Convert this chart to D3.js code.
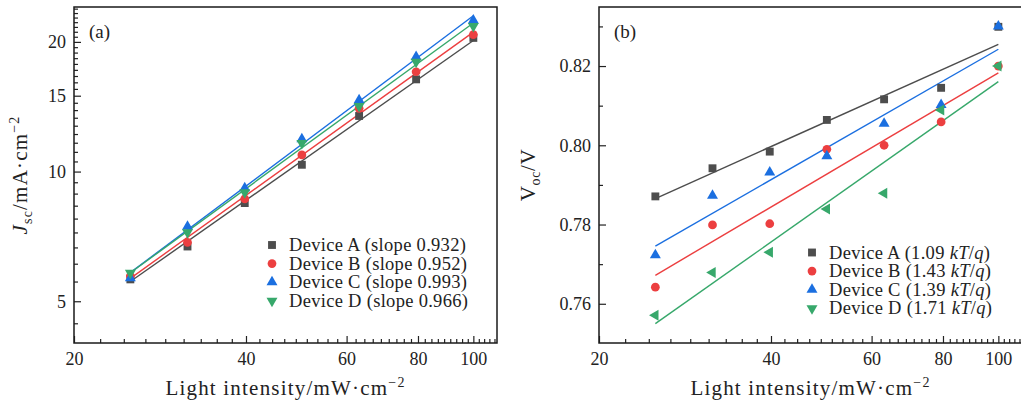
<!DOCTYPE html>
<html>
<head>
<meta charset="utf-8">
<script src="https://cdn.jsdelivr.net/npm/d3@7"></script>
<style>
  body { margin: 0; background: #fff; }
  svg, svg text { font-family: "Liberation Serif", "DejaVu Serif", serif; }
</style>
</head>
<body>
<div id="chart"></div>
<script>
// Light intensity (mW/cm^2), shared by both panels
const intensity = [25.1, 31.6, 39.8, 50.1, 63.1, 79.4, 100];
const deviceNames = ['Device A', 'Device B', 'Device C', 'Device D'];

// (a) Jsc, mA/cm^2
const jscA = [5.62, 6.70, 8.45, 10.37, 13.46, 16.37, 20.43];
const jscB = [5.72, 6.85, 8.64, 10.93, 14.02, 17.05, 20.80];
const jscC = [5.66, 7.45, 9.15, 11.90, 14.65, 18.46, 22.45];
const jscD = [5.82, 7.22, 8.94, 11.64, 14.19, 17.98, 21.75];
const jscSlopes = [0.932, 0.952, 0.993, 0.966];

// (b) Voc, V
const vocA = [0.7871, 0.7942, 0.7984, 0.8064, 0.8116, 0.8145, 0.8299];
const vocB = [0.7642, 0.7799, 0.7802, 0.7990, 0.8000, 0.8059, 0.8200];
const vocC = [0.7723, 0.7873, 0.7932, 0.7973, 0.8055, 0.8102, 0.8300];
const vocD = [0.7571, 0.7679, 0.7730, 0.7839, 0.7879, 0.8089, 0.8200];
const idealityN = [1.09, 1.43, 1.39, 1.71];

// tick labels
const xTicks = [20, 40, 60, 80, 100];
const jscTicks = [5, 10, 15, 20];
const vocTicks = [0.76, 0.78, 0.80, 0.82];

const colors = ['#4d4d4d', '#ec3f40', '#1b6fe0', '#37a86b'];
const kTq = 0.025852;
const serif = '"Liberation Serif", "DejaVu Serif", serif';

const width = 1021, height = 403;
const svg = d3.select('#chart').append('svg')
  .attr('width', width)
  .attr('height', height);

const plotTop = 7, plotBottom = 343;

function symbolPath(i) {
  // square, circle, up triangle, down (legend / panel a) or left triangle (panel b points)
  const types = [d3.symbolSquare, d3.symbolCircle, d3.symbolTriangle, d3.symbolTriangle];
  const sizes = [62, 60, 52, 52];
  return d3.symbol().type(types[i]).size(sizes[i])();
}
function symbolRotate(i, panel) {
  if (i !== 3) return '';
  return panel === 'b' ? ' rotate(-90)' : ' rotate(180)';
}

// minor ticks (Origin style)
function minorLinear(majors, step, lo, hi) {
  const out = [];
  for (let v = Math.floor(lo / step) * step; v <= hi + 1e-9; v += step) {
    if (v < lo || v > hi) continue;
    if (majors.some(m => Math.abs(m - v) < step * 0.05)) continue;
    out.push(v);
  }
  return out;
}
const xMinor = [];
for (let m = 20; m < 120; m += 20) {
  for (let k = 1; k <= 8; k++) {
    const v = m + k * 20 / 9;
    if (v <= 110) xMinor.push(v);
  }
}

function drawPanel(opts) {
  const { left, right, y, yTicks, yMinor, yFmt, label, series, fits, legendX, legendY, legendText, panel, yPad } = opts;
  const x = d3.scaleLog().domain([20, 110]).range([left, right]);
  const g = svg.append('g');

  // x axis (inward ticks)
  const xa = g.append('g').attr('transform', `translate(0,${plotBottom})`);
  xa.call(d3.axisBottom(x).tickValues(xMinor).tickSize(-4).tickFormat(''));
  xa.append('g').call(d3.axisBottom(x).tickValues(xTicks).tickSize(-7).tickPadding(9).tickFormat(d3.format('d')));
  // y axis
  const ya = g.append('g').attr('transform', `translate(${left},0)`);
  ya.call(d3.axisLeft(y).tickValues(yMinor).tickSize(-4).tickFormat(''));
  ya.append('g').call(d3.axisLeft(y).tickValues(yTicks).tickSize(-7).tickPadding(yPad).tickFormat(yFmt));

  g.selectAll('.domain').remove();
  g.selectAll('g').attr('font-family', null);
  g.selectAll('.tick line').attr('stroke', '#222').attr('stroke-width', 1.2);
  g.selectAll('.tick text').attr('fill', '#222').style('font-size', '18px')
    .style('font-family', serif);

  // frame
  g.append('rect')
    .attr('x', left).attr('y', plotTop)
    .attr('width', right - left).attr('height', plotBottom - plotTop)
    .attr('fill', 'none').attr('stroke', '#1a1a1a').attr('stroke-width', 1.5);

  // fits and points
  series.forEach((vals, i) => {
    g.append('path')
      .datum(fits[i])
      .attr('fill', 'none')
      .attr('stroke', colors[i])
      .attr('stroke-width', 1.4)
      .attr('d', d3.line().x(d => x(d[0])).y(d => y(d[1])));
  });
  series.forEach((vals, i) => {
    g.selectAll(null)
      .data(vals.map((v, j) => [intensity[j], v]))
      .enter().append('path')
      .attr('d', symbolPath(i))
      .attr('fill', colors[i])
      .attr('transform', d => `translate(${x(d[0])},${y(d[1])})${symbolRotate(i, panel)}`);
  });

  // legend
  deviceNames.forEach((name, i) => {
    const cy = legendY + i * 18.6;
    g.append('path')
      .attr('d', symbolPath(i))
      .attr('fill', colors[i])
      .attr('transform', `translate(${legendX},${cy})${symbolRotate(i, 'legend')}`);
    const t = g.append('text')
      .attr('x', legendX + 17).attr('y', cy + 6)
      .attr('fill', '#222')
      .style('font-family', serif)
      .style('font-size', '18.5px')
      .style('letter-spacing', '0.3px');
    legendText(t, name, i);
  });

  // panel label
  g.append('text')
    .attr('x', left + 15).attr('y', 38)
    .attr('fill', '#222')
    .style('font-family', serif)
    .style('font-size', '19px')
    .text(label);

  // x title
  const xt = g.append('text')
    .attr('x', (left + right) / 2).attr('y', 395)
    .attr('text-anchor', 'middle')
    .attr('fill', '#222')
    .style('font-family', serif)
    .style('font-size', '21px')
    .style('letter-spacing', '1.2px');
  xt.append('tspan').text('Light intensity/mW\u00b7cm');
  xt.append('tspan').attr('dy', -8).style('font-size', '14px').text('\u22122');

  return g;
}

// ---------- panel (a) ----------
const yA = d3.scaleLog().domain([4.0, 24.1]).range([plotBottom, plotTop]);
const jscSeries = [jscA, jscB, jscC, jscD];
const lx = intensity.map(Math.log10);
const lxMean = d3.mean(lx);
const jscFits = jscSeries.map((vals, i) => {
  const lyMean = d3.mean(vals.map(Math.log10));
  const ends = [intensity[0], intensity[intensity.length - 1]];
  return ends.map(v => [v, Math.pow(10, lyMean + jscSlopes[i] * (Math.log10(v) - lxMean))]);
});
const yMinorA = [];
for (let v = 5 / 9; v < 24.1; v += 5 / 9) {
  if (v >= 4.0 && Math.abs(v / 5 - Math.round(v / 5)) > 0.01) yMinorA.push(v);
}
const gA = drawPanel({
  left: 74, right: 497, y: yA,
  yTicks: jscTicks, yMinor: yMinorA, yFmt: d3.format('d'), yPad: 8,
  label: '(a)', series: jscSeries, fits: jscFits, panel: 'a',
  legendX: 272, legendY: 245,
  legendText: (t, name, i) => t.text(`${name} (slope ${jscSlopes[i].toFixed(3)})`)
});
const ytA = gA.append('text')
  .attr('transform', `translate(27,${(plotTop + plotBottom) / 2}) rotate(-90)`)
  .attr('text-anchor', 'middle')
  .attr('fill', '#222')
  .style('font-family', serif)
  .style('font-size', '21px')
  .style('letter-spacing', '1.2px');
ytA.append('tspan').style('font-style', 'italic').text('J');
ytA.append('tspan').attr('dy', 5).style('font-size', '14px').text('sc');
ytA.append('tspan').attr('dy', -5).text('/mA\u00b7cm');
ytA.append('tspan').attr('dy', -8).style('font-size', '14px').text('\u22122');

// ---------- panel (b) ----------
const yB = d3.scaleLinear().domain([0.7501, 0.8349]).range([plotBottom, plotTop]);
const vocSeries = [vocA, vocB, vocC, vocD];
const lnx = intensity.map(Math.log);
const lnMean = d3.mean(lnx);
const vocFits = vocSeries.map((vals, i) => {
  const vMean = d3.mean(vals);
  const ends = [intensity[0], intensity[intensity.length - 1]];
  return ends.map(v => [v, vMean + idealityN[i] * kTq * (Math.log(v) - lnMean)]);
});
const yMinorB = minorLinear(vocTicks, 0.01, 0.7501, 0.8349);
const gB = drawPanel({
  left: 599, right: 1022, y: yB,
  yTicks: vocTicks, yMinor: yMinorB, yFmt: d3.format('.2f'), yPad: 8,
  label: '(b)', series: vocSeries, fits: vocFits, panel: 'b',
  legendX: 812, legendY: 252.5,
  legendText: (t, name, i) => {
    t.append('tspan').text(`${name} (${idealityN[i].toFixed(2)} `);
    t.append('tspan').style('font-style', 'italic').text('kT');
    t.append('tspan').text('/');
    t.append('tspan').style('font-style', 'italic').text('q');
    t.append('tspan').text(')');
  }
});
const ytB = gB.append('text')
  .attr('transform', `translate(535,${(plotTop + plotBottom) / 2}) rotate(-90)`)
  .attr('text-anchor', 'middle')
  .attr('fill', '#222')
  .style('font-family', serif)
  .style('font-size', '21px')
  .style('letter-spacing', '0.6px');
ytB.append('tspan').text('V');
ytB.append('tspan').attr('dy', 5).style('font-size', '14px').text('oc');
ytB.append('tspan').attr('dy', -5).text('/V');
</script>
</body>
</html>
